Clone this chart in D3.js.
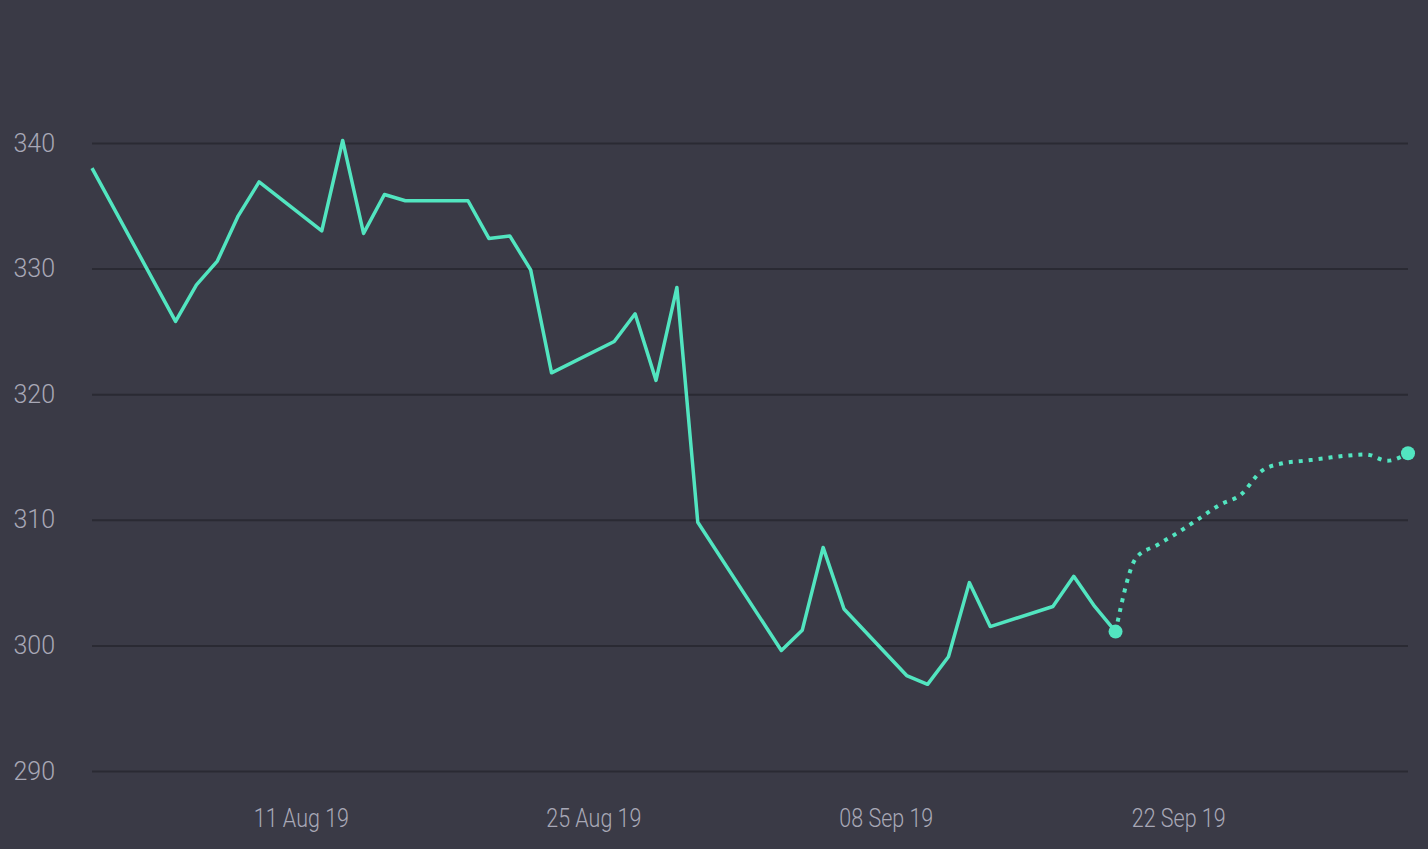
<!DOCTYPE html>
<html>
<head>
<meta charset="utf-8">
<script src="https://cdn.jsdelivr.net/npm/d3@7"></script>
<style>
  html, body { margin: 0; padding: 0; background: #3a3a46; }
  svg { display: block; }
  .tick text { font-family: Roboto, "Noto Sans", sans-serif; font-weight: 300; }
</style>
</head>
<body>
<svg id="chart"></svg>
<script>
// actual closing prices (trading days)
const actualDates = [
  "2019-08-01", "2019-08-05", "2019-08-06", "2019-08-07", "2019-08-08", "2019-08-09",
  "2019-08-12", "2019-08-13", "2019-08-14", "2019-08-15", "2019-08-16",
  "2019-08-19", "2019-08-20", "2019-08-21", "2019-08-22", "2019-08-23",
  "2019-08-26", "2019-08-27", "2019-08-28", "2019-08-29", "2019-08-30",
  "2019-09-03", "2019-09-04", "2019-09-05", "2019-09-06",
  "2019-09-09", "2019-09-10", "2019-09-11", "2019-09-12", "2019-09-13",
  "2019-09-16", "2019-09-17", "2019-09-18", "2019-09-19"
];
const actualValues = [
  338.0, 325.8, 328.7, 330.6, 334.2, 336.9,
  333.0, 340.2, 332.8, 335.9, 335.4,
  335.4, 332.4, 332.6, 329.9, 321.7,
  324.2, 326.4, 321.1, 328.5, 309.8,
  299.6, 301.2, 307.8, 302.9,
  297.6, 296.9, 299.1, 305.0, 301.5,
  303.1, 305.5, 303.1, 301.1
];

// forecast (dotted)
const forecastDates = [
  "2019-09-19", "2019-09-20", "2019-09-21", "2019-09-22", "2019-09-23", "2019-09-24",
  "2019-09-25", "2019-09-26", "2019-09-27", "2019-09-28", "2019-09-29",
  "2019-09-30", "2019-10-01", "2019-10-02", "2019-10-03"
];
const forecastValues = [
  301.1, 307.0, 308.0, 309.0, 310.1, 311.2,
  312.0, 313.9, 314.5, 314.7, 314.9,
  315.1, 315.2, 314.7, 315.3
];

const yTicks = [290, 300, 310, 320, 330, 340];
const xTickDates = ["2019-08-11", "2019-08-25", "2019-09-08", "2019-09-22"];

const width = 1428, height = 849;
const margin = { top: 143, right: 20, bottom: 78, left: 92 };
const squeeze = 0.86; // narrow the date labels, the original font is condensed

const parse = d3.timeParse("%Y-%m-%d");
const actual = actualDates.map((d, i) => ({ date: parse(d), value: actualValues[i] }));
const forecast = forecastDates.map((d, i) => ({ date: parse(d), value: forecastValues[i] }));

const svg = d3.select("#chart")
  .attr("width", width)
  .attr("height", height);

svg.append("rect")
  .attr("width", width)
  .attr("height", height)
  .attr("fill", "#3a3a46");

const x = d3.scaleTime()
  .domain([parse("2019-08-01"), parse("2019-10-03")])
  .range([margin.left, width - margin.right]);

const y = d3.scaleLinear()
  .domain([290, 340])
  .range([height - margin.bottom, margin.top]);

// y axis + grid
const yAxis = svg.append("g")
  .attr("transform", `translate(${margin.left},0)`)
  .call(d3.axisLeft(y)
    .tickValues(yTicks)
    .tickSize(-(width - margin.left - margin.right)));

yAxis.select(".domain").remove();
yAxis.selectAll(".tick line")
  .attr("stroke", "#2a2a33")
  .attr("stroke-width", 2);
yAxis.selectAll(".tick text")
  .attr("x", -37)
  .attr("fill", "#a8a8b6")
  .style("font-size", "25px");

// x axis
const xAxis = svg.append("g")
  .attr("transform", `translate(0,${height - margin.bottom})`)
  .call(d3.axisBottom(x)
    .tickValues(xTickDates.map(parse))
    .tickFormat(d3.timeFormat("%d %b %y"))
    .tickSize(0)
    .tickPadding(38));

xAxis.select(".domain").remove();
xAxis.selectAll(".tick text")
  .attr("transform", `scale(${squeeze},1)`)
  .attr("fill", "#a8a8b6")
  .style("font-size", "25px");

const lineColor = "#52e5c0";

const line = d3.line()
  .x(d => x(d.date))
  .y(d => y(d.value));

svg.append("path")
  .datum(actual)
  .attr("fill", "none")
  .attr("stroke", lineColor)
  .attr("stroke-width", 3.5)
  .attr("stroke-linejoin", "round")
  .attr("d", line);

const smooth = d3.line()
  .curve(d3.curveMonotoneX)
  .x(d => x(d.date))
  .y(d => y(d.value));

svg.append("path")
  .datum(forecast)
  .attr("fill", "none")
  .attr("stroke", lineColor)
  .attr("stroke-width", 4)
  .attr("stroke-dasharray", "4 6")
  .attr("d", smooth);

// end markers
svg.selectAll("circle.marker")
  .data([forecast[0], forecast[forecast.length - 1]])
  .join("circle")
  .attr("class", "marker")
  .attr("cx", d => x(d.date))
  .attr("cy", d => y(d.value))
  .attr("r", 7)
  .attr("fill", lineColor);
</script>
</body>
</html>
